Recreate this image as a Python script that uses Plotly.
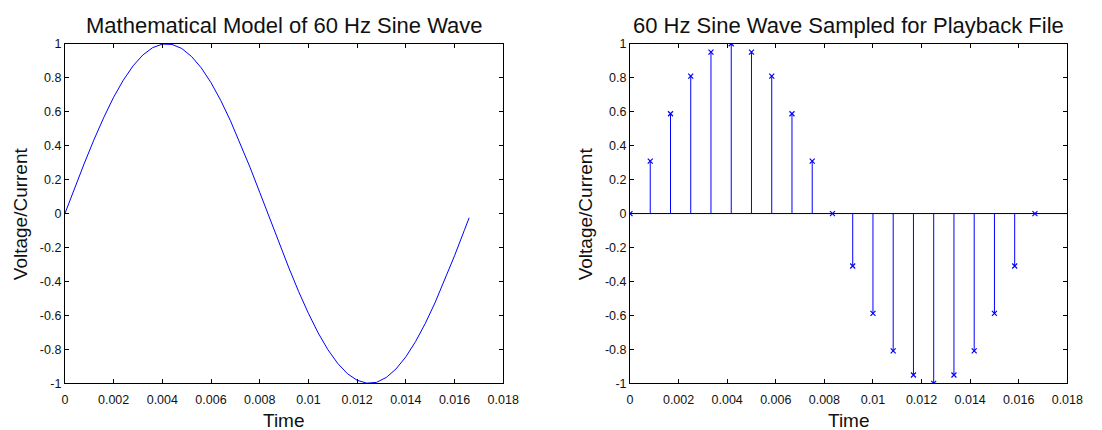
import plotly.graph_objects as go

# Left panel: continuous 60 Hz sine
t_model = [0.0000, 0.0004, 0.0008, 0.0012, 0.0016, 0.0020, 0.0024, 0.0028, 0.0032, 0.0036,
           0.0040, 0.0044, 0.0048, 0.0052, 0.0056, 0.0060, 0.0064, 0.0068, 0.0072, 0.0076,
           0.0080, 0.0084, 0.0088, 0.0092, 0.0096, 0.0100, 0.0104, 0.0108, 0.0112, 0.0116,
           0.0120, 0.0124, 0.0128, 0.0132, 0.0136, 0.0140, 0.0144, 0.0148, 0.0152, 0.0156,
           0.0160, 0.0164, 0.0166]
v_model = [0.000, 0.150, 0.297, 0.437, 0.567, 0.685, 0.786, 0.870, 0.934, 0.977,
           0.998, 0.996, 0.972, 0.925, 0.858, 0.771, 0.666, 0.546, 0.414, 0.273,
           0.125, -0.025, -0.175, -0.321, -0.460, -0.588, -0.703, -0.802, -0.882, -0.943,
           -0.982, -0.999, -0.994, -0.965, -0.915, -0.844, -0.754, -0.647, -0.525, -0.391,
           -0.249, -0.100, -0.025]

# Right panel: sampled points (stem plot)
t_samp = [0.0, 0.000833, 0.001667, 0.0025, 0.003333, 0.004167, 0.005, 0.005833, 0.006667, 0.0075,
          0.008333, 0.009167, 0.01, 0.010833, 0.011667, 0.0125, 0.013333, 0.014167, 0.015, 0.015833,
          0.016667]
v_samp = [0.0, 0.309, 0.588, 0.809, 0.951, 1.0, 0.951, 0.809, 0.588, 0.309,
          0.0, -0.309, -0.588, -0.809, -0.951, -1.0, -0.951, -0.809, -0.588, -0.309,
          0.0]

x_ticks = [0, 0.002, 0.004, 0.006, 0.008, 0.01, 0.012, 0.014, 0.016, 0.018]
x_labels = ["0", "0.002", "0.004", "0.006", "0.008", "0.01", "0.012", "0.014", "0.016", "0.018"]
y_ticks = [-1, -0.8, -0.6, -0.4, -0.2, 0, 0.2, 0.4, 0.6, 0.8, 1]
y_labels = ["-1", "-0.8", "-0.6", "-0.4", "-0.2", "0", "0.2", "0.4", "0.6", "0.8", "1"]

titles = ["Mathematical Model of 60 Hz Sine Wave", "60 Hz Sine Wave Sampled for Playback File"]
xlabel = "Time"
ylabel = "Voltage/Current"

FONT = "Liberation Sans, Arial, Helvetica, sans-serif"
BLUE = "#0000ff"

fig = go.Figure()

fig.add_trace(go.Scatter(x=t_model, y=v_model, mode="lines",
                         line=dict(color=BLUE, width=1), xaxis="x", yaxis="y",
                         showlegend=False, hoverinfo="skip"))

# baseline for stem plot
fig.add_trace(go.Scatter(x=[x_ticks[0], x_ticks[-1]], y=[0, 0], mode="lines",
                         line=dict(color="#000000", width=1), xaxis="x2", yaxis="y2",
                         showlegend=False, hoverinfo="skip"))

sx, sy = [], []
for t, v in zip(t_samp, v_samp):
    sx += [t, t, None]
    sy += [0, v, None]
fig.add_trace(go.Scatter(x=sx, y=sy, mode="lines", line=dict(color=BLUE, width=1),
                         xaxis="x2", yaxis="y2", showlegend=False, hoverinfo="skip"))
fig.add_trace(go.Scatter(x=t_samp, y=v_samp, mode="markers",
                         marker=dict(symbol="x-thin", size=5, color=BLUE,
                                     line=dict(width=1.2, color=BLUE)),
                         xaxis="x2", yaxis="y2", showlegend=False, hoverinfo="skip"))

W, H = 1102, 430
xd1 = [63 / W, 509 / W]
xd2 = [638 / W, 1083 / W]
yd = [1 - 389 / H, 1 - 38 / H]

axis_common = dict(showgrid=False, zeroline=False, showline=True, linecolor="black",
                   linewidth=1, mirror="ticks", ticks="inside", ticklen=4, tickwidth=1,
                   tickcolor="black", tickfont=dict(family=FONT, size=12.5, color="#111111"))

fig.update_layout(
    width=W, height=H,
    margin=dict(l=0, r=0, t=0, b=0),
    paper_bgcolor="white", plot_bgcolor="white",
    font=dict(family=FONT, color="black"),
    xaxis=dict(domain=xd1, range=[0, 0.018], tickvals=x_ticks, ticktext=x_labels,
               anchor="y", ticklabelstandoff=5, **axis_common),
    yaxis=dict(domain=yd, range=[-1, 1], tickvals=y_ticks, ticktext=y_labels,
               anchor="x", **axis_common),
    xaxis2=dict(domain=xd2, range=[0, 0.018], tickvals=x_ticks, ticktext=x_labels,
                anchor="y2", ticklabelstandoff=5, **axis_common),
    yaxis2=dict(domain=yd, range=[-1, 1], tickvals=y_ticks, ticktext=y_labels,
                anchor="x2", **axis_common),
)

ann = []
for i, (xd) in enumerate([xd1, xd2]):
    cx = (xd[0] + xd[1]) / 2
    ann.append(dict(text=titles[i], x=cx, y=1 - 19 / H, xref="paper", yref="paper",
                    showarrow=False, xanchor="center", yanchor="middle",
                    font=dict(family=FONT, size=22, color="#111111")))
    ann.append(dict(text=xlabel, x=cx, y=1 - 427 / H, xref="paper", yref="paper",
                    showarrow=False, xanchor="center", yanchor="middle",
                    font=dict(family=FONT, size=19, color="#111111")))
ylab_x = [18 / W, 593 / W]
for xx in ylab_x:
    ann.append(dict(text=ylabel, x=xx, y=(yd[0] + yd[1]) / 2, xref="paper", yref="paper",
                    showarrow=False, xanchor="center", yanchor="middle", textangle=-90,
                    font=dict(family=FONT, size=19, color="#111111")))
fig.update_layout(annotations=ann)

fig.write_html("out.html")
